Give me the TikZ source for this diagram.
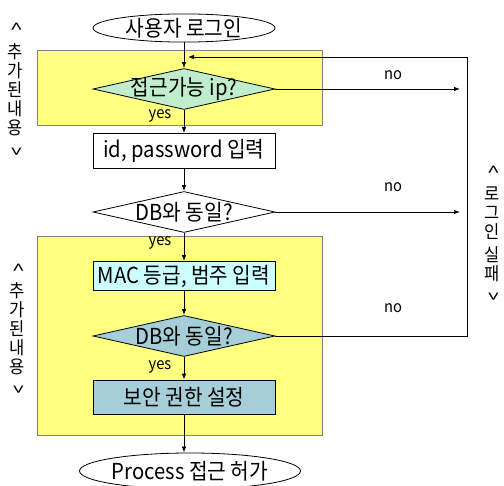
\documentclass[tikz,border=0pt]{standalone}
\usepackage{fontspec}
\setmainfont[FakeStretch=0.92]{Noto Sans CJK KR}
\usetikzlibrary{shapes.geometric,arrows.meta}
\definecolor{areayellow}{RGB}{255,255,128}
\definecolor{mintfill}{RGB}{192,238,204}
\definecolor{cyanfill}{RGB}{204,255,255}
\definecolor{steelfill}{RGB}{166,206,216}
\newcommand{\vopen}{\rotatebox[origin=c]{-90}{\scalebox{0.9}[1.25]{<}}}
\newcommand{\vclose}{\rotatebox[origin=c]{-90}{\scalebox{0.9}[1.25]{>}}}
\begin{document}
\begin{tikzpicture}[
            x=1pt, y=-1pt, line width=0.8pt,
            every node/.style = {font=\fontsize{22}{24}\selectfont},
            area/.style = {draw=gray, fill=areayellow},
            proc/.style = {draw, minimum width=182pt, inner sep=0pt},
            decide/.style = {diamond, draw, aspect=4.5, minimum width=182pt, minimum height=41pt, inner sep=0pt},
            term/.style = {ellipse, draw, fill=white, inner sep=0pt},
            flow/.style = {-{Latex[length=6pt,width=4.5pt]}},
            small/.style = {font=\fontsize{16}{18}\selectfont},
            side/.style = {font=\fontsize{18}{19}\selectfont, align=center}
          ]
          \useasboundingbox (0,0) rectangle (504,486);
          % added areas
          \draw[area] (37,50) rectangle (322,125);
          \draw[area] (37,236) rectangle (322,435);

          \node[term, minimum width=182pt, minimum height=28pt] (start) at (184,28) {사용자 로그인};
          \node[decide, fill=mintfill] (ip) at (184,89) {\makebox[0pt]{접근가능 ip?}};
          \node[proc, fill=white, minimum height=35pt] (login) at (184,151) {id, password 입력};
          \node[decide, fill=white] (dbA) at (184,212) {\makebox[0pt]{DB와 동일?}};
          \node[proc, fill=cyanfill, minimum height=29pt] (mac) at (184,276) {MAC 등급, 범주 입력};
          \node[decide, fill=steelfill] (dbB) at (184,336) {\makebox[0pt]{DB와 동일?}};
          \node[proc, fill=steelfill, minimum height=34pt] (auth) at (184,397) {보안 권한 설정};
          \node[term, minimum width=194pt, minimum height=36pt] (done) at (190,471) {Process 접근 허가};

          \coordinate (failA) at (460,89);
          \coordinate (failB) at (460,212);
          \coordinate (loopA) at (467,57);
          \coordinate (back) at (188,57);

          \draw[flow] (start) -- (ip);
          \draw[flow] (ip) -- (login);
          \draw[flow] (login) -- (dbA);
          \draw[flow] (dbA) -- (mac);
          \draw[flow] (mac) -- (dbB);
          \draw[flow] (dbB) -- (auth);
          \draw[flow] (auth) -- (auth |- done.north);

          \draw[flow] (ip.east) -- (ip.east -| failA);
          \draw[flow] (dbA.east) -- (dbA.east -| failB);
          \draw[flow] (dbB.east) -- (dbB.east -| loopA) -- (loopA) -- (back);

          \node[small] (yesA) at (160,116) {yes};
          \node[small] (yesB) at (160,243) {yes};
          \node[small] (yesC) at (160,367) {yes};
          \node[small] (noA) at (393,75) {no};
          \node[small] (noB) at (393,187) {no};
          \node[small] (noC) at (393,308) {no};

          % side notes
          \node[side] (addA) at (15,90) {\vopen\\[7pt]추\\가\\된\\내\\용\\[4pt]\vclose};
          \node[side] (addB) at (17,330) {\vopen\\[4pt]추\\가\\된\\내\\용\\[4pt]\vclose};
          \node[side] (fail) at (492,234) {\vopen\\[6pt]로\\그\\인\\[4pt]실\\패\\[3pt]\vclose};
        \end{tikzpicture}
\end{document}
